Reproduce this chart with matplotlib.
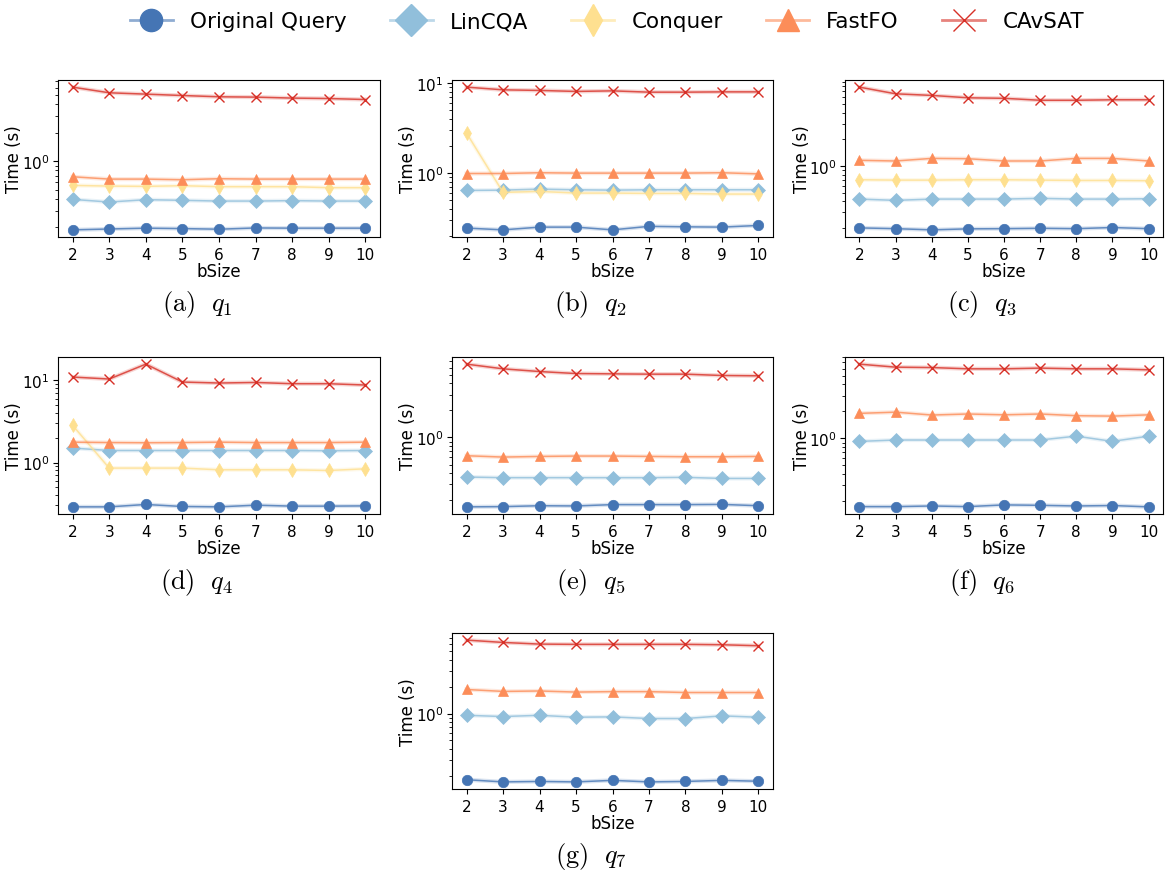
import matplotlib
matplotlib.use("Agg")
import matplotlib.pyplot as plt
from matplotlib.colors import to_rgba

plt.rcParams['mathtext.fontset'] = 'cm'

bsize = [2, 3, 4, 5, 6, 7, 8, 9, 10]

methods = ["Original Query", "LinCQA", "Conquer", "FastFO", "CAvSAT"]
colors = ["#4575b4", "#91bfdb", "#fee090", "#fc8d59", "#d73027"]
markers = ["o", "D", "d", "^", "x"]

# times (s) per query (None = method not shown)
q1_orig = [0.188, 0.192, 0.196, 0.194, 0.191, 0.197, 0.196, 0.196, 0.196]
q1_lincqa = [0.395, 0.370, 0.392, 0.386, 0.379, 0.379, 0.383, 0.379, 0.379]
q1_conquer = [0.555, 0.546, 0.542, 0.551, 0.538, 0.538, 0.538, 0.525, 0.525]
q1_fastfo = [0.685, 0.647, 0.647, 0.637, 0.653, 0.647, 0.647, 0.647, 0.647]
q1_cavsat = [6.07, 5.29, 5.12, 4.95, 4.80, 4.76, 4.65, 4.60, 4.49]

q2_orig = [0.245, 0.234, 0.251, 0.251, 0.234, 0.256, 0.253, 0.251, 0.262]
q2_lincqa = [0.642, 0.647, 0.664, 0.653, 0.647, 0.653, 0.653, 0.653, 0.653]
q2_conquer = [2.78, 0.610, 0.626, 0.600, 0.600, 0.595, 0.595, 0.585, 0.585]
q2_fastfo = [0.99, 0.99, 1.01, 1.00, 1.00, 1.00, 1.00, 1.01, 0.98]
q2_cavsat = [9.03, 8.43, 8.30, 8.09, 8.21, 7.94, 7.94, 8.00, 8.00]

q3_orig = [0.199, 0.195, 0.189, 0.194, 0.195, 0.197, 0.195, 0.201, 0.195]
q3_lincqa = [0.422, 0.408, 0.422, 0.422, 0.422, 0.430, 0.422, 0.422, 0.426]
q3_conquer = [0.699, 0.692, 0.692, 0.699, 0.699, 0.692, 0.686, 0.686, 0.681]
q3_fastfo = [1.16, 1.14, 1.22, 1.21, 1.14, 1.14, 1.22, 1.22, 1.14]
q3_cavsat = [7.83, 6.58, 6.31, 5.93, 5.85, 5.56, 5.56, 5.63, 5.63]

q4_orig = [0.288, 0.288, 0.308, 0.291, 0.288, 0.302, 0.294, 0.294, 0.296]
q4_lincqa = [1.50, 1.40, 1.40, 1.40, 1.40, 1.40, 1.40, 1.39, 1.40]
q4_conquer = [2.83, 0.855, 0.855, 0.855, 0.815, 0.815, 0.815, 0.799, 0.838]
q4_fastfo = [1.77, 1.75, 1.74, 1.75, 1.77, 1.75, 1.75, 1.75, 1.77]
q4_cavsat = [11.0, 10.4, 15.8, 9.56, 9.30, 9.45, 9.12, 9.12, 8.79]

q5_orig = [0.169, 0.170, 0.174, 0.173, 0.179, 0.179, 0.179, 0.180, 0.174]
q5_lincqa = [0.363, 0.357, 0.357, 0.357, 0.357, 0.357, 0.360, 0.350, 0.350]
q5_fastfo = [0.626, 0.605, 0.615, 0.621, 0.621, 0.615, 0.610, 0.610, 0.615]
q5_cavsat = [6.54, 5.80, 5.41, 5.14, 5.10, 5.06, 5.06, 4.89, 4.85]

q6_orig = [0.174, 0.174, 0.177, 0.174, 0.182, 0.180, 0.177, 0.179, 0.173]
q6_lincqa = [0.926, 0.960, 0.960, 0.960, 0.960, 0.960, 1.06, 0.926, 1.06]
q6_fastfo = [1.90, 1.96, 1.82, 1.87, 1.83, 1.87, 1.79, 1.77, 1.83]
q6_cavsat = [6.71, 6.21, 6.15, 5.95, 5.95, 6.06, 5.95, 5.95, 5.80]

q7_orig = [0.182, 0.172, 0.174, 0.172, 0.179, 0.172, 0.174, 0.179, 0.175]
q7_lincqa = [0.957, 0.926, 0.957, 0.910, 0.919, 0.880, 0.880, 0.943, 0.910]
q7_fastfo = [1.86, 1.77, 1.79, 1.74, 1.76, 1.76, 1.72, 1.72, 1.72]
q7_cavsat = [6.64, 6.25, 5.99, 5.95, 5.95, 5.95, 5.95, 5.89, 5.74]

captions = ["(a)", "(b)", "(c)", "(d)", "(e)", "(f)", "(g)"]
queries = [
    [q1_orig, q1_lincqa, q1_conquer, q1_fastfo, q1_cavsat],
    [q2_orig, q2_lincqa, q2_conquer, q2_fastfo, q2_cavsat],
    [q3_orig, q3_lincqa, q3_conquer, q3_fastfo, q3_cavsat],
    [q4_orig, q4_lincqa, q4_conquer, q4_fastfo, q4_cavsat],
    [q5_orig, q5_lincqa, None, q5_fastfo, q5_cavsat],
    [q6_orig, q6_lincqa, None, q6_fastfo, q6_cavsat],
    [q7_orig, q7_lincqa, None, q7_fastfo, q7_cavsat],
]

W, H = 1167, 878
fig = plt.figure(figsize=(W / 100, H / 100), dpi=100)

# pixel boxes of each panel
col_x = [(58, 380), (452, 773), (845, 1163)]
row_y = [(81, 238), (358, 515), (634, 790)]
boxes = [(0, 0), (1, 0), (2, 0), (0, 1), (1, 1), (2, 1), (1, 2)]

for i, (c, r) in enumerate(boxes):
    x0, x1 = col_x[c]
    y0, y1 = row_y[r]
    ax = fig.add_axes([x0 / W, 1 - y1 / H, (x1 - x0) / W, (y1 - y0) / H])
    for j, series in enumerate(queries[i]):
        if series is None:
            continue
        # light band under the line, like the seaborn CI
        ax.plot(bsize, series, color=colors[j], lw=3, alpha=0.2)
        ax.plot(bsize, series, color=to_rgba(colors[j], 0.8), lw=1.1,
                marker=markers[j], markersize=7.5 if markers[j] != "x" else 7,
                mfc=colors[j], mec=colors[j], mew=1.0 if markers[j] == "x" else 0.5)
    ax.set_yscale("log")
    ax.set_xticks(bsize)
    ax.tick_params(labelsize=11)
    ax.tick_params(axis="y", which="major", pad=2.5)
    ax.set_xlabel("bSize", fontsize=12, labelpad=0)
    ax.set_ylabel("Time (s)", fontsize=12)
    ax.yaxis.set_label_coords(-0.108, 0.5)
    fig.text(((x0 + x1) / 2 - 22) / W, 1 - (y1 + 67) / H,
             r"$\mathrm{%s}\ \ q_%d$" % (captions[i], i + 1),
             ha="center", va="center", fontsize=19)

leg_handles = []
for j in range(len(methods)):
    h, = plt.plot([], [], color=to_rgba(colors[j], 0.6), lw=2,
                  marker=markers[j], markersize=16, mfc=colors[j], mec=colors[j],
                  mew=1.0)
    leg_handles.append(h)
fig.legend(leg_handles, methods, loc="upper center", bbox_to_anchor=(0.52, 1.008),
           ncol=5, frameon=False, fontsize=15.5, columnspacing=2.0,
           handletextpad=0.8)

fig.savefig("out.png", dpi=100)
